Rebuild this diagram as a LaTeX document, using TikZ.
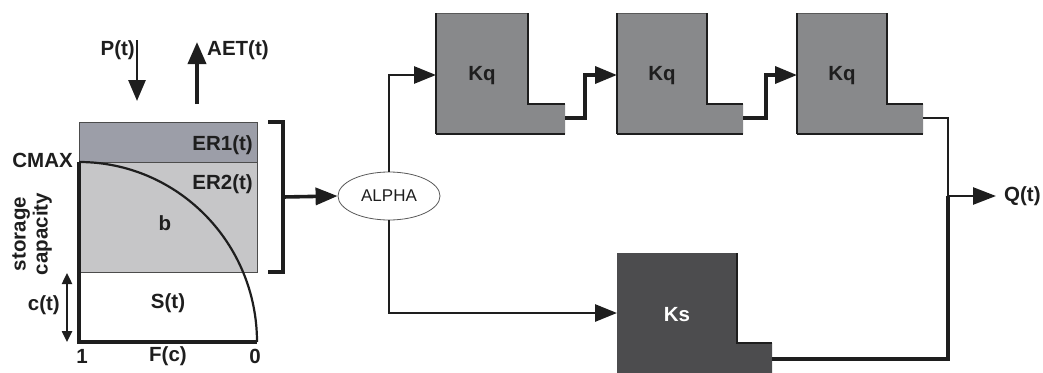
\documentclass[tikz,border=0pt]{standalone}
\usepackage{fontspec}
\setmainfont{Liberation Sans}
\usetikzlibrary{arrows.meta,shapes.geometric}
\definecolor{erone}{RGB}{156,158,168}
\definecolor{ertwo}{RGB}{198,198,200}
\definecolor{kqfill}{RGB}{136,137,139}
\definecolor{ksfill}{RGB}{76,76,78}
\definecolor{edge}{RGB}{30,30,30}
\begin{document}
\begin{tikzpicture}[x=1pt,y=-1pt,
  lbl/.style={font=\fontsize{20.5}{22}\selectfont\bfseries, inner sep=0pt, text=edge},
  tip/.style={-{Triangle[length=22pt,width=17pt]}},
  conn/.style={line width=3.6pt, tip, draw=edge},
  thinconn/.style={line width=2.8pt, tip, draw=edge},
  boxline/.style={line width=2.6pt, draw=edge},
  line join=miter]
\path[use as bounding box] (0,0) rectangle (1043,372);
\clip (0,0) rectangle (1043,372);

% ---------- soil storage ----------
\fill[erone] (79,122) rectangle (257,162);
\fill[ertwo] (79,162) rectangle (257,272);
\draw[gray!60!black, line width=0.9pt] (79,122) rectangle (257,272);
\draw[gray!60!black, line width=0.9pt] (79,162) -- (257,162);
\draw[edge, line width=2.2pt] (79,162) .. controls (177.3,162) and (257,242.6) .. (257,342);
\draw[edge, line width=4.2pt] (79,162) -- (79,342) -- (257,342);

\node[lbl, anchor=east] (er1) at (253,145) {ER1(t)};
\node[lbl, anchor=east] (er2) at (253,184) {ER2(t)};
\node[lbl] (b) at (165,223) {b};
\node[lbl] (st) at (168,303) {S(t)};
\node[lbl, anchor=east] (cmax) at (73,160) {CMAX};
\node[lbl, rotate=90, align=center, font=\fontsize{20.5}{22}\selectfont\bfseries] (cap) at (32,234) {storage\\capacity};
\node[lbl, anchor=east] (ct) at (60,305) {c(t)};
\node[lbl] (one) at (82,356) {1};
\node[lbl] (fc) at (168,356) {F(c)};
\node[lbl] (zero) at (255,356) {0};

\coordinate (ctop) at (67,273);
\coordinate (cbot) at (67,342);
\draw[edge, line width=2.4pt, {Triangle[length=11pt,width=10pt]}-{Triangle[length=11pt,width=10pt]}] (ctop) -- (cbot);

% inputs / outputs
\node[lbl, anchor=east] (pt) at (135,50) {P(t)};
\node[lbl, anchor=west] (aet) at (207,50) {AET(t)};
\coordinate (pa) at (137,40);
\coordinate (pb) at (137,101);
\coordinate (aa) at (197,104);
\coordinate (ab) at (197,42);
\draw[edge, line width=2.8pt, -{Triangle[length=21pt,width=17pt]}] (pa) -- (pb);
\draw[edge, line width=3.8pt, -{Triangle[length=22pt,width=18pt]}] (aa) -- (ab);

% bracket
\coordinate (bt) at (268,122);
\coordinate (bb) at (268,272);
\coordinate (brk) at (283,197);
\draw[edge, line width=3.6pt] (bt) -| (brk) |- (bb);

% ---------- ALPHA ----------
\node[ellipse, draw=gray!70!black, line width=0.8pt, minimum width=102pt, minimum height=48pt,
      inner sep=0pt, font=\fontsize{17}{17}\selectfont, text=edge] (alpha) at (389,196) {ALPHA};
\draw[conn] (brk) -- (alpha.west);

% ---------- Kq reservoirs ----------
\foreach \xa/\xn/\xb in {436/528/565, 617/707/743, 797/887/923}{
  \fill[kqfill] (\xa,13) -- (\xn,13) -- (\xn,104) -- (\xb,104) -- (\xb,134) -- (\xa,134) -- cycle;
  \draw[gray!70!black, line width=0.6pt] (\xa,13) -- (\xn,13);
  \draw[edge, line width=1.2pt] (\xa,13) -- (\xa,134);
  \draw[boxline] (\xn,13) -- (\xn,104) -- (\xb,104);
  \draw[boxline] (\xa,134) -- (\xb,134);
}
\node[lbl] (kq1) at (482,76) {Kq};
\node[lbl] (kq2) at (662,76) {Kq};
\node[lbl] (kq3) at (842,76) {Kq};

% ---------- Ks reservoir ----------
\fill[ksfill] (617,253) -- (737,253) -- (737,343) -- (772,343) -- (772,380) -- (617,380) -- cycle;
\draw[boxline] (737,253) -- (737,343) -- (772,343);
\node[lbl, text=white] (ks) at (677,315) {Ks};

% ports
\coordinate (kq1in) at (436,75);
\coordinate (kq1out) at (565,118);
\coordinate (kq2in) at (617,75);
\coordinate (kq2out) at (743,118);
\coordinate (kq3in) at (797,75);
\coordinate (kq3out) at (923,118);
\coordinate (ksin) at (617,313);
\coordinate (ksout) at (772,359);
\coordinate (jn) at (948,196);

\draw[thinconn] (alpha.north) |- (kq1in);
\draw[thinconn] (alpha.south) |- (ksin);
\draw[conn] (kq1out) -- ++(20,0) |- (kq2in);
\draw[conn] (kq2out) -- ++(23,0) |- (kq3in);
\draw[edge, line width=1.4pt] (kq3out) -| (jn);
\draw[edge, line width=3.6pt] (ksout) -| (jn);

\node[lbl, anchor=west] (qt) at (1004,196) {Q(t)};
\draw[edge, line width=2.6pt, -{Triangle[length=23pt,width=17pt]}] (jn) -- ([xshift=-8pt]qt.west);
\end{tikzpicture}
\end{document}
